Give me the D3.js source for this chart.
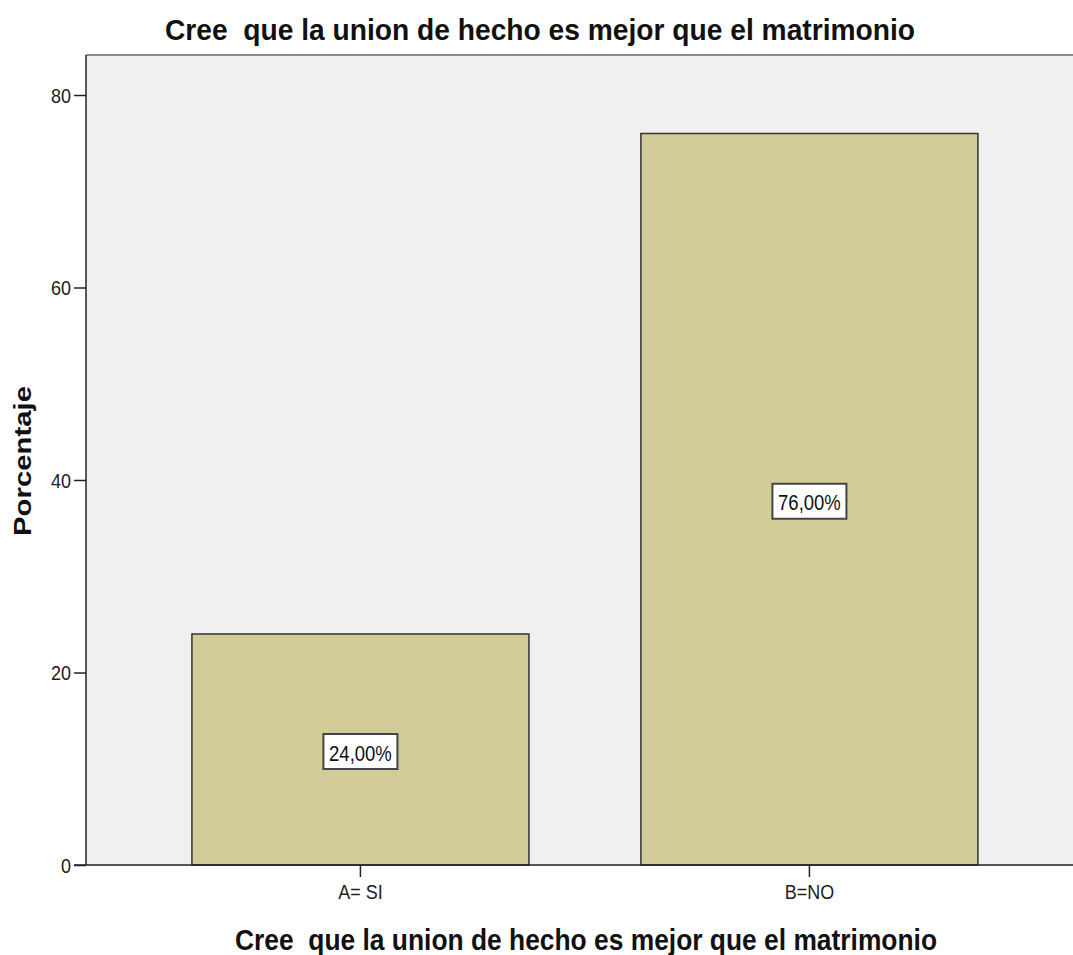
<!DOCTYPE html>
<html><head><meta charset="utf-8">
<script src="https://cdn.jsdelivr.net/npm/d3@7"></script>
<style>body{margin:0;background:#fff}svg{display:block}text{white-space:pre}</style>
</head><body>
<script>
const categories = ["A= SI", "B=NO"];
const values = [24, 76];
const valueLabels = ["24,00%", "76,00%"];
const yTicks = [0, 20, 40, 60, 80];
const title = "Cree  que la union de hecho es mejor que el matrimonio";
const xTitle = "Cree  que la union de hecho es mejor que el matrimonio";
const yTitle = "Porcentaje";

const W = 1073, H = 955;
const m = {left: 86, top: 55};
const svg = d3.select("body").append("svg").attr("width", W).attr("height", H);
const font = "'Liberation Sans', Arial, sans-serif";

const y = d3.scaleLinear().domain([0, 80]).range([865, 95]);
const x = d3.scaleBand().domain(categories).range([m.left, W])
  .paddingInner(0.2494).paddingOuter(0.2238).align(0.527);

svg.append("rect").attr("x", m.left).attr("y", m.top).attr("width", W - m.left).attr("height", y(0) - m.top).attr("fill", "#f0f0f0");
svg.append("line").attr("x1", m.left).attr("x2", W).attr("y1", m.top).attr("y2", m.top).attr("stroke", "#8a8a8a").attr("stroke-width", 2);

svg.selectAll(".bar").data(values).enter().append("rect")
  .attr("x", (d, i) => x(categories[i]))
  .attr("width", x.bandwidth())
  .attr("y", d => y(d))
  .attr("height", d => y(0) - y(d))
  .attr("fill", "#d2cd98").attr("stroke", "#333").attr("stroke-width", 1.5);

// value labels
const lab = svg.selectAll(".lab").data(values).enter().append("g")
  .attr("transform", (d, i) => `translate(${x(categories[i]) + x.bandwidth() / 2},${y(d / 2) + 2})`);
lab.append("rect").attr("x", -37).attr("y", -17.5).attr("width", 74).attr("height", 35)
  .attr("fill", "#fff").attr("stroke", "#444").attr("stroke-width", 2);
lab.append("text").text((d, i) => valueLabels[i]).attr("text-anchor", "middle")
  .attr("transform", "translate(0,9) scale(1,1.2)")
  .attr("font-family", font).attr("font-size", 18.5).attr("fill", "#111");

// y axis
const ya = svg.append("g").attr("transform", `translate(${m.left},0)`)
  .call(d3.axisLeft(y).tickValues(yTicks).tickSize(12).tickPadding(3).tickFormat(d3.format("d")));
ya.select(".domain").remove();
ya.selectAll("line").attr("stroke", "#222").attr("stroke-width", 1.5);
ya.selectAll("text").attr("font-family", font).attr("font-size", 18).attr("fill", "#222")
  .attr("dy", null).attr("transform", "translate(0,7) scale(1,1.1)");
svg.append("line").attr("x1", m.left).attr("x2", m.left).attr("y1", m.top).attr("y2", y(0)).attr("stroke", "#222").attr("stroke-width", 1.5);

// x axis
const xa = svg.append("g").attr("transform", `translate(0,${y(0)})`)
  .call(d3.axisBottom(x).tickSize(12).tickPadding(0));
xa.select(".domain").remove();
xa.selectAll("line").attr("stroke", "#222").attr("stroke-width", 1.5);
xa.selectAll("text").attr("font-family", font).attr("font-size", 18).attr("fill", "#222")
  .attr("y", 0).attr("dy", null).attr("transform", "translate(0,34) scale(1,1.15)");
svg.append("line").attr("x1", m.left - 12).attr("x2", W).attr("y1", y(0)).attr("y2", y(0)).attr("stroke", "#222").attr("stroke-width", 1.5);

svg.append("text").text(title).attr("x", 540).attr("y", 40).attr("text-anchor", "middle")
  .attr("textLength", 750).attr("lengthAdjust", "spacingAndGlyphs")
  .attr("font-family", font).attr("font-weight", "bold").attr("font-size", 29).attr("fill", "#111");
svg.append("text").text(xTitle).attr("x", 586).attr("y", 950).attr("text-anchor", "middle")
  .attr("textLength", 702).attr("lengthAdjust", "spacingAndGlyphs")
  .attr("font-family", font).attr("font-weight", "bold").attr("font-size", 29).attr("fill", "#111");
svg.append("text").text(yTitle).attr("transform", "translate(31,461) rotate(-90)").attr("text-anchor", "middle")
  .attr("textLength", 150).attr("lengthAdjust", "spacingAndGlyphs")
  .attr("font-family", font).attr("font-weight", "bold").attr("font-size", 24).attr("fill", "#111");
</script>
</body></html>
